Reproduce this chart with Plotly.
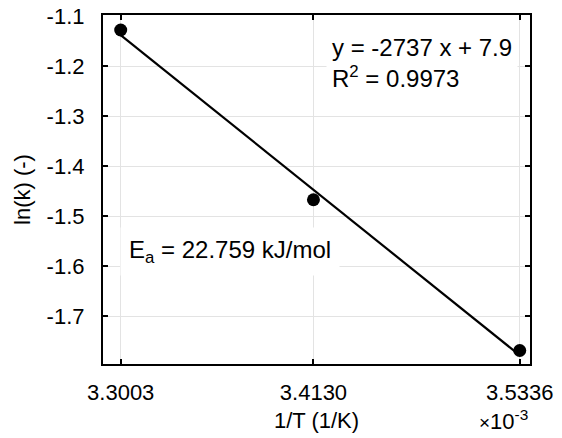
import numpy as np
import plotly.graph_objects as go

# Data (1/T in units of 1e-3 1/K, ln(k))
inv_T = [3.3003, 3.4130, 3.5336]
ln_k = [-1.128, -1.467, -1.768]
x_tick_labels = ["3.3003", "3.4130", "3.5336"]
y_tick_vals = [-1.7, -1.6, -1.5, -1.4, -1.3, -1.2, -1.1]
y_tick_labels = ["-1.7", "-1.6", "-1.5", "-1.4", "-1.3", "-1.2", "-1.1"]
eq_text = "y = -2737 x + 7.9<br>R<sup>2</sup> = 0.9973"
ea_text = "E<sub>a</sub> = 22.759 kJ/mol"
exp_text = "<span style='font-size:19px'>×</span>10<sup>-3</sup>"

slope, intercept = np.polyfit(inv_T, ln_k, 1)
fit_x = [inv_T[0], inv_T[-1]]
fit_y = [slope * v + intercept for v in fit_x]

FONT = "Liberation Sans, Arial, sans-serif"
L, R, T, B = 103, 32, 15, 74
PW, PH = 562 - L - R, 438 - T - B

fig = go.Figure()
fig.add_trace(go.Scatter(x=fit_x, y=fit_y, mode="lines",
                         line=dict(color="black", width=2.2), showlegend=False))
fig.add_trace(go.Scatter(x=inv_T, y=ln_k, mode="markers",
                         marker=dict(color="black", size=13), showlegend=False))

fig.update_layout(
    width=562, height=438,
    margin=dict(l=L, r=R, t=T, b=B),
    paper_bgcolor="white", plot_bgcolor="white",
    font=dict(family=FONT, size=22, color="black"),
    showlegend=False,
)
fig.update_xaxes(
    range=[3.28995, 3.5396], tickvals=inv_T, ticktext=x_tick_labels,
    showgrid=True, gridcolor="#e3e3e3", gridwidth=1,
    showline=True, linecolor="black", linewidth=2.2, mirror="ticks",
    ticks="inside", ticklen=5, tickwidth=2, tickcolor="black",
    zeroline=False, ticklabelstandoff=7, automargin=False,
    title=dict(text="1/T (1/K)", font=dict(size=22), standoff=9),
)
fig.update_yaxes(
    range=[-1.795, -1.098], tickvals=y_tick_vals, ticktext=y_tick_labels,
    showgrid=True, gridcolor="#e3e3e3", gridwidth=1,
    showline=True, linecolor="black", linewidth=2.2, mirror="ticks",
    ticks="inside", ticklen=5, tickwidth=2, tickcolor="black",
    zeroline=False, ticklabelstandoff=12, automargin=False,
    title=dict(text="ln(k) (-)", font=dict(size=22), standoff=10),
)

fig.add_annotation(
    x=(326 - L) / PW, y=1 - (28 - T) / PH, xref="paper", yref="paper",
    xanchor="left", yanchor="top", align="left", text=eq_text,
    showarrow=False, bgcolor="white", borderpad=5,
    font=dict(family=FONT, size=24, color="black"),
)
fig.add_annotation(
    x=(120 - L) / PW, y=1 - (251 - T) / PH, xref="paper", yref="paper",
    xanchor="left", yanchor="middle", align="left", text=ea_text,
    showarrow=False, bgcolor="white", borderpad=8,
    font=dict(family=FONT, size=24, color="black"),
)
fig.add_annotation(
    x=1.0, y=-(420 - (438 - B)) / PH, xref="paper", yref="paper",
    xanchor="right", yanchor="middle", text=exp_text,
    showarrow=False, font=dict(family=FONT, size=22, color="black"),
)

fig.write_html("out.html")
